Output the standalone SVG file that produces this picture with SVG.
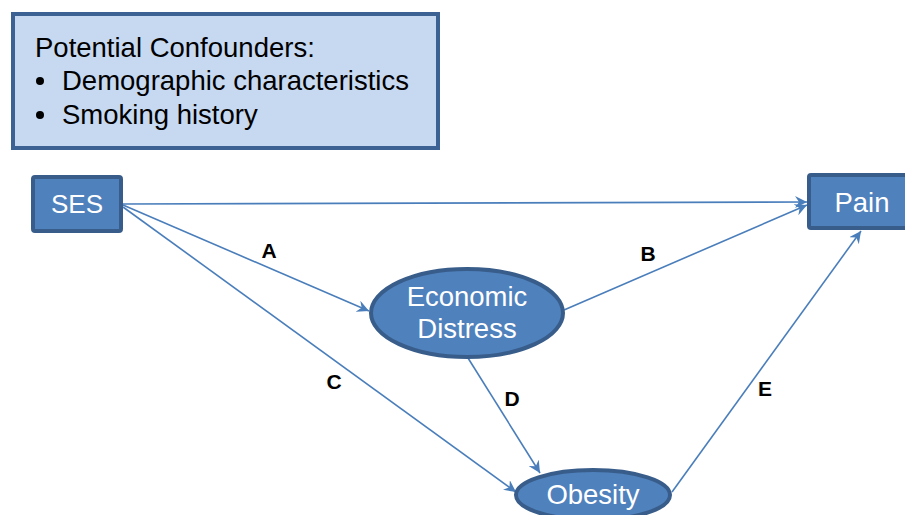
<svg xmlns="http://www.w3.org/2000/svg" width="905" height="515" viewBox="0 0 905 515">
<defs>
<marker id="arr" markerWidth="14" markerHeight="12" refX="12" refY="6" orient="auto" markerUnits="userSpaceOnUse">
<path d="M0,0 L12,6 L0,12 L4,6 Z" fill="#4a7ebb"/>
</marker>
</defs>
<style>
.node{fill:#4f81bd;stroke:#385d8a;stroke-width:4}
.nt{font-family:"Liberation Sans",Arial,sans-serif;font-size:27.5px;fill:#ffffff;text-anchor:middle}
.conf{fill:#c6d9f1;stroke:#3c6294;stroke-width:4}
.ct{font-family:"Liberation Sans",Arial,sans-serif;font-size:27.5px;fill:#000000}
.edge{stroke:#4a7ebb;stroke-width:1.6;fill:none;marker-end:url(#arr)}
.lbl{font-family:"Liberation Sans",Arial,sans-serif;font-size:21px;font-weight:bold;fill:#000000;text-anchor:middle}
</style>
<g id="confounders">
<rect class="conf" x="13" y="14" width="425" height="134"/>
<text class="ct" x="35" y="57">Potential Confounders:</text>
<circle cx="40" cy="81" r="4" fill="#000"/>
<text class="ct" x="62" y="90">Demographic characteristics</text>
<circle cx="40" cy="115" r="4" fill="#000"/>
<text class="ct" x="62" y="124">Smoking history</text>
</g>
<g id="connectors">
<line class="edge" x1="123" y1="204" x2="807" y2="202"/>
<line class="edge" x1="123" y1="205" x2="369" y2="311"/>
<line class="edge" x1="123" y1="207" x2="516" y2="492"/>
<line class="edge" x1="564" y1="310" x2="807" y2="205"/>
<line class="edge" x1="468" y1="358" x2="540" y2="473"/>
<line class="edge" x1="672" y1="492" x2="861" y2="231"/>
<text class="lbl" x="269" y="258">A</text>
<text class="lbl" x="648" y="261">B</text>
<text class="lbl" x="334" y="389">C</text>
<text class="lbl" x="512" y="406">D</text>
<text class="lbl" x="765" y="396">E</text>
</g>
<g id="ses">
<rect class="node" x="33" y="177" width="88" height="54" rx="2"/>
<text class="nt" x="77" y="213" style="font-size:26px">SES</text>
</g>
<g id="pain">
<rect class="node" x="809" y="175" width="100" height="53" rx="2"/>
<text class="nt" x="862" y="212">Pain</text>
</g>
<g id="economic-distress">
<ellipse class="node" cx="467" cy="313" rx="96" ry="44"/>
<text class="nt" x="467" y="306">Economic</text>
<text class="nt" x="467" y="338">Distress</text>
</g>
<g id="obesity">
<ellipse class="node" cx="593" cy="495" rx="77" ry="25"/>
<text class="nt" x="593" y="504">Obesity</text>
</g>
</svg>
